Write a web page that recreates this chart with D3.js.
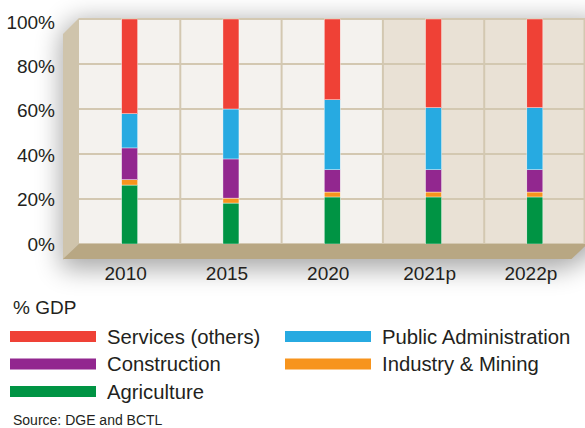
<!DOCTYPE html>
<html><head><meta charset="utf-8">
<script src="https://cdn.jsdelivr.net/npm/d3@7/dist/d3.min.js"></script>
<style>
html,body{margin:0;padding:0;background:#fff;}
svg{display:block;font-family:"Liberation Sans",Arial,sans-serif;}
</style></head>
<body><svg id="c" width="585" height="428"></svg>
<script>
const years = ["2010","2015","2020","2021p","2022p"];
const seriesNames = ["Agriculture","Industry & Mining","Construction","Public Administration","Services (others)"];
const agriculture   = [26.2, 18.2, 20.9, 20.9, 20.9];
const industry      = [2.4, 2.2, 2.2, 2.2, 2.2];
const construction  = [14.1, 17.4, 9.9, 9.9, 9.9];
const publicAdmin   = [15.2, 22.2, 31.1, 27.6, 27.6];
const services      = [42.1, 40.0, 35.9, 39.4, 39.4];
const colors = ["#009444","#f7941d","#92278f","#27aae1","#ef4136"];
const yTicks = [0,20,40,60,80,100];
const projected = ["2021p","2022p"];

const svg = d3.select("#c");
const defs = svg.append("defs");
const f = defs.append("filter").attr("id","sh").attr("x","-30%").attr("y","-40%").attr("width","160%").attr("height","180%");
f.append("feGaussianBlur").attr("stdDeviation",13);

const L = 79, R = 585.5, T = 19, B = 244, D = 16;
const x = d3.scaleBand().domain(years).range([L, R]);
const y = d3.scaleLinear().domain([0,100]).range([B, T]);
const yLab = d3.scaleLinear().domain([0,100]).range([B, T+3]);

// shadow
svg.append("polygon")
  .attr("points", [[L-D+2,T+D],[L,T-2],[R+20,T-2],[R+20,B],[R-D,B+D+6],[L-D+2,B+D+6]].map(p=>p.join(",")).join(" "))
  .attr("fill","#000").attr("opacity",0.34).attr("filter","url(#sh)")
  .attr("transform","translate(-4,3)");

// back wall bands
svg.append("g").selectAll("rect").data(years).join("rect")
  .attr("x", d=>x(d)).attr("y", y(100)).attr("width", x.bandwidth()+0.5).attr("height", y(0)-y(100))
  .attr("fill", d=> projected.includes(d) ? "#e9e1d5" : "#f4f2ee");

// grid
const grid = svg.append("g").attr("stroke","#d3c8b1").attr("stroke-width",2);
grid.selectAll("line.h").data(yTicks).join("line").attr("class","h")
  .attr("x1",L).attr("x2",R+5).attr("y1",d=>y(d)).attr("y2",d=>y(d));
grid.selectAll("line.v").data(years.slice(1).concat(["end"])).join("line").attr("class","v")
  .attr("x1",(d,i)=> i<years.length-1 ? x(d) : R-1).attr("x2",(d,i)=> i<years.length-1 ? x(d) : R-1)
  .attr("y1",y(100)).attr("y2",y(0));

// left wall
svg.append("polygon")
  .attr("points", [[L-D,T+D-1],[L,T-1],[L,B],[L-D,B+D]].map(p=>p.join(",")).join(" "))
  .attr("fill","#cfc4ac");

// bars
const data = years.map((yr,i)=>({year:yr, "Agriculture":agriculture[i], "Industry & Mining":industry[i],
  "Construction":construction[i], "Public Administration":publicAdmin[i], "Services (others)":services[i]}));
const stack = d3.stack().keys(seriesNames)(data);
const bw = 16;
svg.append("g").selectAll("g").data(stack).join("g").attr("fill",(d,i)=>colors[i])
  .selectAll("rect").data(d=>d).join("rect")
  .attr("x", d=>x(d.data.year)+(x.bandwidth()-bw)/2).attr("width",bw)
  .attr("y", d=>y(d[1])).attr("height", d=>y(d[0])-y(d[1]))
  .attr("stroke","#fff").attr("stroke-width",0.4);

// floor
svg.append("polygon")
  .attr("points", [[L,B],[R+2,B],[R+2-D,B+D-1],[L-D,B+D-1]].map(p=>p.join(",")).join(" "))
  .attr("fill","#b8a783");

// y axis labels
const ya = svg.append("g").attr("transform","translate(55,0)")
  .call(d3.axisLeft(yLab).tickValues(yTicks).tickFormat(d=>d+"%").tickSize(0).tickPadding(0));
ya.select(".domain").remove();
ya.selectAll("text").attr("font-size",19).attr("fill","#231f20").attr("font-family","Liberation Sans, Arial, sans-serif");

// x axis labels
const xa = svg.append("g").attr("transform","translate(-4,263)")
  .call(d3.axisBottom(x).tickSize(0).tickPadding(3));
xa.select(".domain").remove();
xa.selectAll("text").attr("font-size",19).attr("fill","#231f20").attr("font-family","Liberation Sans, Arial, sans-serif");

// legend
svg.append("text").attr("x",13).attr("y",314).attr("font-size",19).attr("fill","#231f20").text("% GDP");
const legendOrder = ["Services (others)","Public Administration","Construction","Industry & Mining","Agriculture"];
const lg = svg.append("g").selectAll("g").data(legendOrder).join("g")
  .attr("transform",(d,i)=>`translate(${i%2===0?10:285},${331+Math.floor(i/2)*27.5})`);
lg.append("rect").attr("width",86).attr("height",11).attr("fill",d=>colors[seriesNames.indexOf(d)]);
lg.append("text").attr("x",97).attr("y",12.5).attr("font-size",20.3).attr("fill","#231f20").text(d=>d);

svg.append("text").attr("x",13).attr("y",425).attr("font-size",14).attr("fill","#231f20").text("Source: DGE and BCTL");
</script></body></html>
